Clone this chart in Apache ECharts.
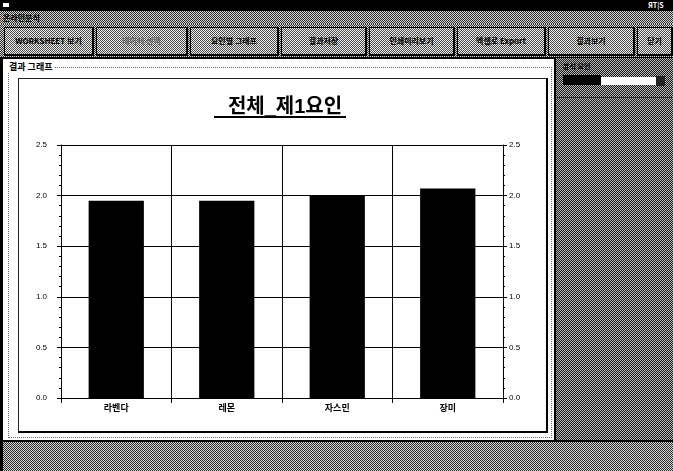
<!DOCTYPE html>
<html>
<head>
<meta charset="utf-8">
<title>전체_제1요인</title>
<script src="https://cdn.jsdelivr.net/npm/echarts@6/dist/echarts.min.js"></script>
<style>
  body { margin: 0; width: 673px; height: 471px; overflow: hidden; position: relative; background: #fff;
         font-family: "Noto Sans CJK KR", "Liberation Sans", sans-serif; }
  .abs { position: absolute; box-sizing: border-box; }
  .dither { background: repeating-conic-gradient(#2a2a2a 0 25%, #d6d6d6 0 50%) 0 0 / 2px 2px; }
  .dither-dark { background: repeating-conic-gradient(#1a1a1a 0 25%, #b8b8b8 0 50%) 0 0 / 2px 2px; }
  .dither-light { background: repeating-conic-gradient(#4a4a4a 0 25%, #f0f0f0 0 50%) 0 0 / 2px 2px; }
  .btn { top: 27px; height: 29px; border: 1px solid #000; border-right-width: 2px; border-bottom-width: 2px;
         font-size: 8px; font-weight: bold; color: #000; text-align: center; line-height: 26px; white-space: nowrap; overflow: hidden; }
  #chart { left: 0; top: 0; width: 673px; height: 471px; }
</style>
</head>
<body>
<!-- 창 틀 -->
<div class="abs" style="left:0;top:0;width:673px;height:11px;background:#000"></div>
<div class="abs" style="left:3px;top:3px;width:6px;height:4px;background:#fff"></div>
<div class="abs" style="left:648px;top:0;font-size:7px;line-height:10px;color:#fff;font-weight:bold">ЯT|S</div>
<div class="abs dither" style="left:0;top:11px;width:673px;height:13px"></div>
<div class="abs" style="left:3px;top:12px;font-size:8px;line-height:11px;font-weight:bold;color:#000">온라인분석</div>
<div class="abs dither" style="left:0;top:24px;width:673px;height:35px;border-bottom:2px solid #000"></div>

<div class="abs btn dither-light" style="left:4px;width:90px">WORKSHEET 보기</div>
<div class="abs btn dither-light" style="left:96px;width:92px;color:#666">데이터 선택</div>
<div class="abs btn dither-light" style="left:190px;width:89px">요인별 그래프</div>
<div class="abs btn dither-light" style="left:281px;width:86px">결과저장</div>
<div class="abs btn dither-light" style="left:369px;width:86px">인쇄미리보기</div>
<div class="abs btn dither-light" style="left:457px;width:89px">엑셀로 Export</div>
<div class="abs btn dither-light" style="left:548px;width:87px">결과보기</div>
<div class="abs btn dither-light" style="left:637px;width:36px">닫기</div>

<!-- 본문 -->
<div class="abs" style="left:0;top:58px;width:3px;height:413px;background:#000"></div>
<div class="abs" style="left:3px;top:59px;width:552px;height:381px;background:#fff"></div>
<div class="abs" style="left:8px;top:67px;width:544px;height:371px;border:1px dotted #666"></div>
<div class="abs" style="left:7px;top:61px;padding:0 2px;background:#fff;font-size:9px;line-height:11px;font-weight:bold;color:#000">결과 그래프</div>
<div class="abs" style="left:18px;top:78px;width:530px;height:355px;border:1px solid #222;border-right:2px solid #000;border-bottom:2px solid #000"></div>

<div class="abs" style="left:554px;top:58px;width:2px;height:383px;background:#000"></div>
<div class="abs dither-dark" style="left:556px;top:58px;width:117px;height:383px"></div>
<div class="abs" style="left:563px;top:62px;font-size:7px;line-height:8px;color:#000;font-weight:bold">분석 요인</div>
<div class="abs" style="left:563px;top:75px;width:38px;height:10px;background:#000"></div>
<div class="abs" style="left:601px;top:77px;width:55px;height:8px;background:#fff"></div>
<div class="abs" style="left:656px;top:76px;width:9px;height:10px;background:#222"></div>
<div class="abs" style="left:556px;top:97px;width:117px;height:1px;background:#333"></div>

<div class="abs" style="left:0;top:440px;width:673px;height:2px;background:#000"></div>
<div class="abs dither" style="left:3px;top:442px;width:670px;height:29px"></div>

<div id="chart" class="abs"></div>

<script>
// 요인별 점수
const categories = ['라벤다', '레몬', '자스민', '장미']
const values = [1.95, 1.95, 2.0, 2.07]
const chartTitle = '전체_제1요인'

const chartInstance = echarts.init(document.getElementById('chart'), null, { renderer: 'canvas' })

const yAxisBase = {
    type: 'value',
    min: 0,
    max: 2.5,
    interval: 0.5,
    axisLine: { show: true, lineStyle: { color: '#000', width: 1 } },
    axisTick: { show: true, inside: false, length: 4, lineStyle: { color: '#000' } },
    minorTick: { show: true, splitNumber: 5, length: 2, lineStyle: { color: '#000' } },
    axisLabel: {
        color: '#000',
        fontSize: 8,
        fontFamily: 'Liberation Sans',
        formatter: v => v.toFixed(1)
    }
}

const option = {
    animation: false,
    backgroundColor: 'transparent',
    title: {
        text: chartTitle,
        left: 280,
        top: 92,
        textAlign: 'center',
        textStyle: {
            fontFamily: '"Liberation Sans", "Noto Sans CJK KR"',
            fontSize: 20,
            fontWeight: 'bold',
            color: '#000'
        }
    },
    graphic: [
        {
            type: 'line',
            shape: { x1: 214, y1: 117, x2: 346, y2: 117 },
            style: { stroke: '#000', lineWidth: 2 }
        }
    ],
    grid: {
        left: 61,
        top: 145,
        width: 442,
        height: 253
    },
    xAxis: {
        type: 'category',
        data: categories,
        axisLine: { show: true, lineStyle: { color: '#000', width: 1 } },
        axisTick: { show: true, alignWithLabel: false, length: 5, lineStyle: { color: '#000' } },
        splitLine: { show: true, lineStyle: { color: '#000', width: 1 } },
        axisLabel: {
            color: '#000',
            fontSize: 9,
            fontWeight: 'bold',
            fontFamily: 'Noto Sans CJK KR',
            margin: 5
        }
    },
    yAxis: [
        Object.assign({}, yAxisBase, {
            position: 'left',
            axisLabel: Object.assign({}, yAxisBase.axisLabel, { margin: 14 }),
            splitLine: { show: true, lineStyle: { color: '#000', width: 1 } }
        }),
        Object.assign({}, yAxisBase, {
            position: 'right',
            axisLabel: Object.assign({}, yAxisBase.axisLabel, { margin: 6 }),
            splitLine: { show: false }
        })
    ],
    series: [
        {
            type: 'bar',
            data: values,
            barWidth: '50%',
            itemStyle: { color: '#000' },
            yAxisIndex: 0,
            z: 3
        }
    ]
}

chartInstance.setOption(option)
</script>
</body>
</html>
